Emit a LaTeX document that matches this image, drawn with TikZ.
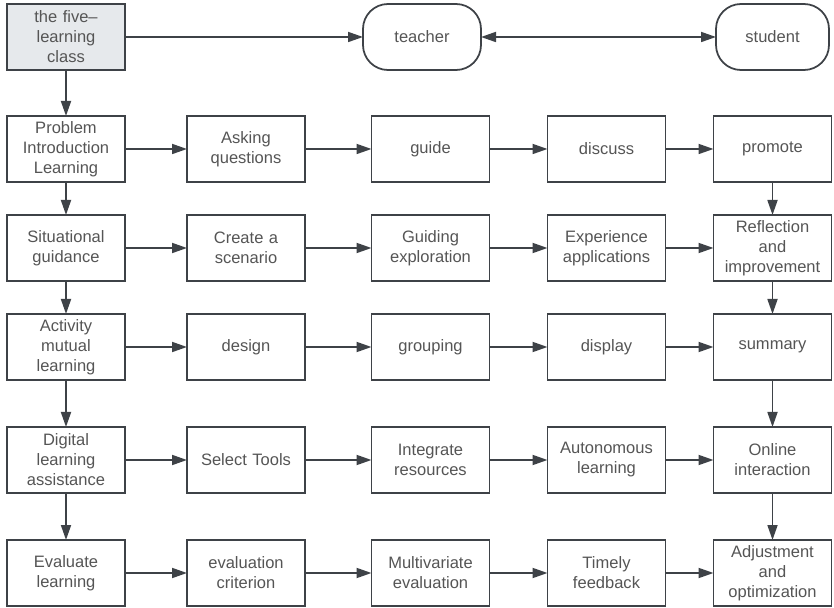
\documentclass[tikz,border=0pt]{standalone}
\usepackage{fontspec}
\setmainfont{Liberation Sans}
\usetikzlibrary{arrows.meta,positioning}
\definecolor{LineGray}{HTML}{3E4247}
\definecolor{TextGray}{HTML}{555555}
\definecolor{HeadFill}{HTML}{E6E9EC}
\tikzset{
  box/.style={draw=LineGray, line width=1pt, fill=white, align=center, text=TextGray, text width=2.2cm, minimum width=2.36cm, minimum height=1.32cm, inner xsep=2pt, inner ysep=2pt, outer sep=0pt, font=\fontsize{9.4}{11.4}\selectfont},
  headbox/.style={box, fill=HeadFill},
  rolebox/.style={box, rounded corners=0.5cm},
  arrow/.style={-{Triangle[length=0.3cm, width=0.2cm]}, line width=1pt, draw=LineGray},
  twoarrow/.style={{Triangle[length=0.3cm, width=0.2cm]}-{Triangle[length=0.3cm, width=0.2cm]}, line width=1pt, draw=LineGray}
}

\begin{document}
\begin{tikzpicture}
\useasboundingbox (0,0) rectangle (16.68,-12.16);
% top row
\node[headbox] (five) at (1.32,-0.74) {the five--\\learning\\class};
\node[rolebox, right=4.76cm of five] (teacher) {teacher};
\node[rolebox, right=4.7cm of teacher, minimum width=2.26cm, text width=2.1cm] (student) {student};
% first column
\node[box] (prob) at (1.32,-2.98) {Problem\\Introduction\\Learning};
\node[box] (situ) at (1.32,-4.96) {Situational\\guidance};
\node[box] (act) at (1.32,-6.94) {Activity\\mutual\\learning};
\node[box] (digi) at (1.32,-9.2) {Digital\\learning\\assistance};
\node[box] (eval) at (1.32,-11.46) {Evaluate\\learning};
% row: problem introduction
\node[box, right=1.24cm of prob] (ask) {Asking\\questions};
\node[box, right=1.33cm of ask] (guide) {guide};
\node[box, right=1.16cm of guide] (disc) {discuss};
\node[box, right=0.96cm of disc] (prom) {promote};
% row: situational guidance
\node[box, right=1.24cm of situ] (scen) {Create a\\scenario};
\node[box, right=1.33cm of scen] (explo) {Guiding\\exploration};
\node[box, right=1.16cm of explo] (expe) {Experience\\applications};
\node[box, right=0.96cm of expe] (refl) {Reflection\\and\\improvement};
% row: activity mutual learning
\node[box, right=1.24cm of act] (design) {design};
\node[box, right=1.33cm of design] (group) {grouping};
\node[box, right=1.16cm of group] (disp) {display};
\node[box, right=0.96cm of disp] (summ) {summary};
% row: digital learning
\node[box, right=1.24cm of digi] (tools) {Select Tools};
\node[box, right=1.33cm of tools] (integ) {Integrate\\resources};
\node[box, right=1.16cm of integ] (auto) {Autonomous\\learning};
\node[box, right=0.96cm of auto] (online) {Online\\interaction};
% row: evaluate learning
\node[box, right=1.24cm of eval] (crit) {evaluation\\criterion};
\node[box, right=1.33cm of crit] (multi) {Multivariate\\evaluation};
\node[box, right=1.16cm of multi] (feed) {Timely\\feedback};
\node[box, right=0.96cm of feed] (adju) {Adjustment\\and\\optimization};
% connectors
\draw[arrow] (five) -- (teacher);
\draw[twoarrow] (teacher) -- (student);
\draw[arrow] (five) -- (prob);
\draw[arrow] (prob) -- (situ);
\draw[arrow] (situ) -- (act);
\draw[arrow] (act) -- (digi);
\draw[arrow] (digi) -- (eval);
\draw[arrow] (prob) -- (ask);
\draw[arrow] (ask) -- (guide);
\draw[arrow] (guide) -- (disc);
\draw[arrow] (disc) -- (prom);
\draw[arrow] (situ) -- (scen);
\draw[arrow] (scen) -- (explo);
\draw[arrow] (explo) -- (expe);
\draw[arrow] (expe) -- (refl);
\draw[arrow] (act) -- (design);
\draw[arrow] (design) -- (group);
\draw[arrow] (group) -- (disp);
\draw[arrow] (disp) -- (summ);
\draw[arrow] (digi) -- (tools);
\draw[arrow] (tools) -- (integ);
\draw[arrow] (integ) -- (auto);
\draw[arrow] (auto) -- (online);
\draw[arrow] (eval) -- (crit);
\draw[arrow] (crit) -- (multi);
\draw[arrow] (multi) -- (feed);
\draw[arrow] (feed) -- (adju);
\draw[arrow] (prom) -- (refl);
\draw[arrow] (refl) -- (summ);
\draw[arrow] (summ) -- (online);
\draw[arrow] (online) -- (adju);
\end{tikzpicture}
\end{document}
